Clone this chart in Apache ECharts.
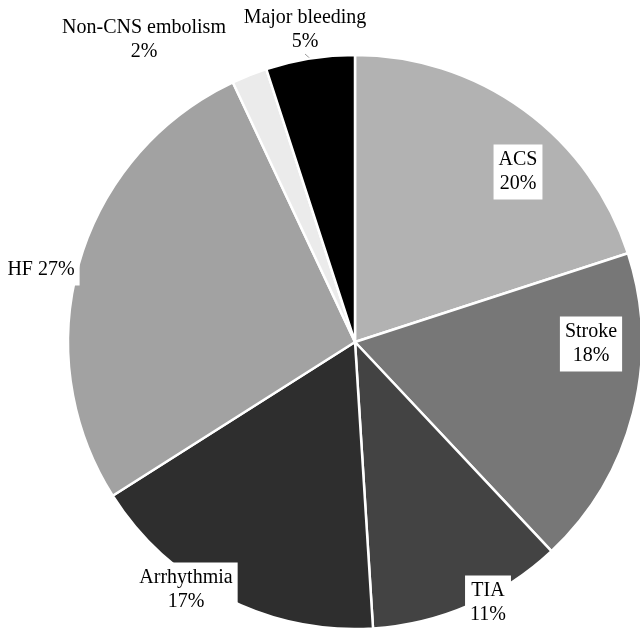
<!DOCTYPE html>
<html>
<head>
<meta charset="utf-8">
<script src="https://cdn.jsdelivr.net/npm/echarts@6/dist/echarts.min.js"></script>
<style>
  html, body { margin: 0; padding: 0; background: #ffffff; }
  #chart { width: 640px; height: 632px; }
</style>
</head>
<body>
<div id="chart"></div>
<script>
// Event categories and their share of all outcomes (%)
const categories = ['ACS', 'Stroke', 'TIA', 'Arrhythmia', 'HF', 'Non-CNS embolism', 'Major bleeding'];
const shares = [20, 18, 11, 17, 27, 2, 5];

// Grey shade for each slice
const sliceColors = ['#b2b2b2', '#777777', '#434343', '#2e2e2e', '#a2a2a2', '#ebebeb', '#000000'];
// Label text layout: two lines except HF, which is written on one line
const labelTwoLine = [true, true, true, true, false, true, true];
// Label anchor (centre) for each slice, in pixels
const labelAnchors = [[518, 172], [591, 344], [488, 603], [186, 590], [41, 270], [144, 40], [305, 30]];
const labelBoxed = [true, true, true, true, true, false, false];

const chart = echarts.init(document.getElementById('chart'), null, { renderer: 'canvas' });

const data = categories.map((name, i) => ({
  name: name,
  value: shares[i],
  itemStyle: { color: sliceColors[i] },
  label: {
    backgroundColor: labelBoxed[i] ? '#ffffff' : 'transparent',
    padding: labelBoxed[i] ? [4, 5, 3, 5] : 0
  },
  labelLine: { show: name === 'Major bleeding' }
}));

chart.setOption({
  backgroundColor: '#ffffff',
  animation: false,
  series: [{
    type: 'pie',
    center: [355, 342],
    radius: [0, 287],
    startAngle: 90,
    clockwise: true,
    avoidLabelOverlap: false,
    data: data,
    itemStyle: { borderColor: '#ffffff', borderWidth: 2.5 },
    label: {
      show: true,
      position: 'outside',
      fontFamily: '"Liberation Serif", "DejaVu Serif", serif',
      fontSize: 20,
      lineHeight: 24,
      color: '#000000',
      align: 'center',
      formatter: function (p) {
        const i = p.dataIndex;
        return p.name + (labelTwoLine[i] ? '\n' : ' ') + p.value + '%';
      }
    },
    labelLine: {
      length: 4,
      length2: 0,
      lineStyle: { color: '#9a9a9a', width: 1 }
    },
    labelLayout: function (params) {
      const a = labelAnchors[params.dataIndex];
      return { x: a[0], y: a[1], align: 'center', verticalAlign: 'middle' };
    }
  }]
});
</script>
</body>
</html>
